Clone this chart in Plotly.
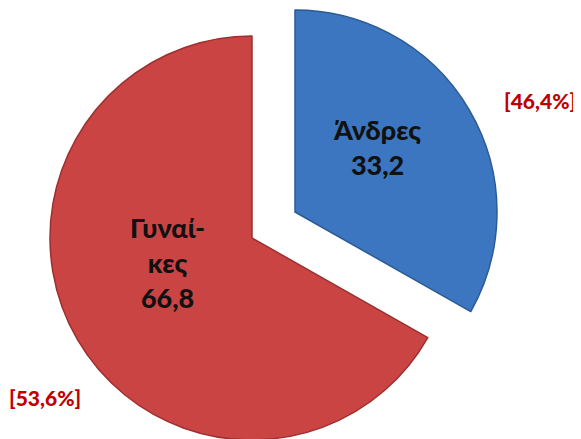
import plotly.graph_objects as go

# δεδομένα
LABELS = ["Άνδρες", "Γυναί-<br>κες"]
VALUES = [33.2, 66.8]
VALUE_TEXT = ["33,2", "66,8"]
SHARE_TEXT = ["[46,4%]", "[53,6%]"]
COLORS = ["#3c76c0", "#cb4444"]
EDGES = ["#2c5a94", "#9c2f2f"]

W, H = 581, 439
OFF = 8  # περιθώριο της σελίδας
FONT = "Lato, 'Open Sans', sans-serif"


def px_x(v):
    return (v - OFF) / W


def px_y(v):
    return 1 - (v - OFF) / H


fig = go.Figure()

# κάθε φέτα σε δικό της trace ώστε η μπλε να "τραβιέται" έξω χωρίς να μικραίνει η πίτα
domains = [
    dict(x=[px_x(93), px_x(497)], y=[px_y(414), px_y(10)]),  # Άνδρες
    dict(x=[px_x(50), px_x(454)], y=[max(0, px_y(440)), px_y(36)]),  # Γυναίκες
]
for i in range(len(VALUES)):
    colors = ["rgba(0,0,0,0)"] * len(VALUES)
    lines = ["rgba(0,0,0,0)"] * len(VALUES)
    colors[i] = COLORS[i]
    lines[i] = EDGES[i]
    fig.add_trace(go.Pie(
        labels=[l.replace("<br>", "") for l in LABELS], values=VALUES,
        sort=False, direction="clockwise", rotation=0,
        marker=dict(colors=colors, line=dict(color=lines, width=1.5)),
        textinfo="none", hoverinfo="label+value",
        domain=domains[i], showlegend=False,
    ))

# ετικέτες
label_pos = [(377, 147), (167, 262)]
share_pos = [(540, 100), (45, 397)]
for i in range(len(VALUES)):
    fig.add_annotation(
        x=px_x(label_pos[i][0]), y=px_y(label_pos[i][1]), xref="paper", yref="paper",
        xanchor="center", yanchor="middle",
        text=f"{LABELS[i]}<br>{VALUE_TEXT[i]}", showarrow=False,
        font=dict(family=FONT, size=27, color="#111111", weight=900), align="center",
    )
    fig.add_annotation(
        x=px_x(share_pos[i][0]), y=px_y(share_pos[i][1]), xref="paper", yref="paper",
        xanchor="center", yanchor="middle",
        text=SHARE_TEXT[i], showarrow=False,
        font=dict(family=FONT, size=21, color="#c00000", weight=900),
    )

fig.update_layout(
    width=W, height=H, margin=dict(t=0, l=0, r=0, b=0),
    paper_bgcolor="white", plot_bgcolor="white",
)
fig.write_html("out.html")
